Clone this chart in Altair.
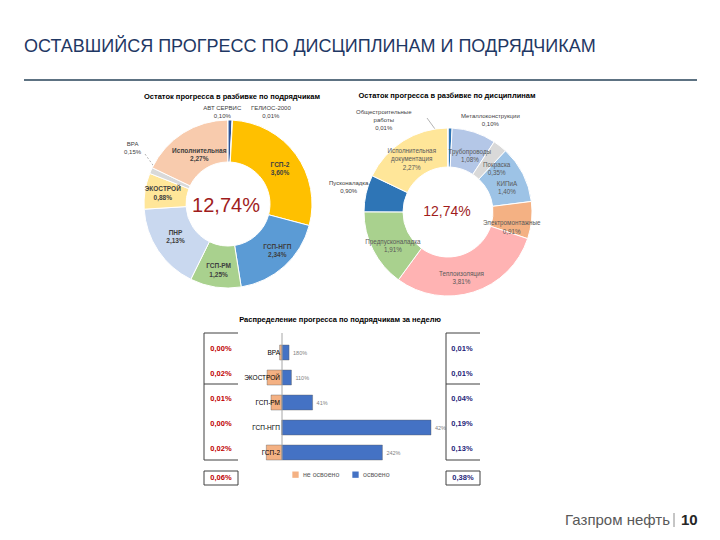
import altair as alt
import pandas as pd

FONT = "Liberation Sans"

# ---------------- data ----------------
total_remaining = 12.74

contractors = ["АВТ СЕРВИС", "ГЕЛИОС-2000", "ГСП-2", "ГСП-НГП", "ГСП-РМ", "ПНР",
               "ЭКОСТРОЙ", "ВРА", "Исполнительная"]
contractor_values = [0.10, 0.01, 3.60, 2.34, 1.25, 2.13, 0.88, 0.15, 2.27]
contractor_colors = ["#2f5597", "#4472c4", "#ffc000", "#5b9bd5", "#a9d18e", "#c9d8ef",
                     "#ffe699", "#d9d9d9", "#f8cbad"]

disciplines = ["Металлоконструкции", "Трубопроводы", "Покраска", "КИПиА", "Электромонтажные",
               "Теплоизоляция", "Предпусконаладка", "Пусконаладка",
               "Исполнительная документация", "Общестроительные работы"]
discipline_labels = ["Металлоконструкции", "Трубопроводы", "Покраска", "КИПиА", "Электромонтажные",
                     "Теплоизоляция", "Предпусконаладка", "Пусконаладка",
                     "Исполнительная\nдокументация", "Общестроительные\nработы"]
discipline_values = [0.10, 1.08, 0.35, 1.40, 0.91, 3.81, 1.91, 0.90, 2.27, 0.01]
discipline_colors = ["#2e75b6", "#b4c7e7", "#d9d9d9", "#9dc3e6", "#f4b183", "#ffb3b3",
                     "#a9d18e", "#2e75b6", "#ffe699", "#f8cbad"]

week_contractors = ["ВРА", "ЭКОСТРОЙ", "ГСП-РМ", "ГСП-НГП", "ГСП-2"]
week_done = [0.009, 0.012, 0.039, 0.19, 0.128]
week_not_done = [0.003, 0.019, 0.014, 0.0, 0.020]
week_ratio_labels = ["180%", "110%", "41%", "42%", "242%"]
status_names = ["не освоено", "освоено"]
status_colors = ["#f4b183", "#4472c4"]


def pct(v):
    return f"{v:.2f}".replace(".", ",") + "%"


# one shared colour scale for every coloured mark
color_scale = alt.Scale(domain=contractors + disciplines + status_names,
                        range=contractor_colors + discipline_colors + status_colors)
legend = alt.Legend(orient="none", legendX=284, legendY=463, direction="horizontal",
                    title=None, values=status_names, symbolType="square", symbolSize=40,
                    symbolStrokeWidth=0, labelFontSize=7, labelFont=FONT,
                    labelColor="#595959", columnPadding=12)


# ---------------- helpers ----------------
def text_at(t, x, y, size=8, color="#000000", weight="normal", align="center", font=FONT):
    return alt.Chart(pd.DataFrame({"t": [t]})).mark_text(
        align=align, baseline="middle", fontSize=size, font=font, fontWeight=weight, color=color
    ).encode(text="t:N", x=alt.value(x), y=alt.value(y))


def seg(x1, y1, x2, y2, color="#404040", w=1.0, dash=None):
    kw = {"color": color, "strokeWidth": w}
    if dash:
        kw["strokeDash"] = dash
    return alt.Chart(pd.DataFrame({"a": [0]})).mark_rule(**kw).encode(
        x=alt.value(x1), y=alt.value(y1), x2=alt.value(x2), y2=alt.value(y2))


def donut(names, labels, values, cx, cy, r_in, r_out, placement, lab_size):
    """placement: name -> (radius, dx, dy, colour, weight, size) of that slice's label."""
    df = pd.DataFrame({
        "name": names,
        "value": values,
        "idx": list(range(len(names))),
        "lab": [f"{l}\n{pct(v)}" for l, v in zip(labels, values)],
    })
    base = alt.Chart(df).encode(
        theta=alt.Theta("value:Q", stack=True),
        order=alt.Order("idx:Q"),
        x=alt.value(cx), y=alt.value(cy),
    )
    arcs = base.mark_arc(innerRadius=r_in, outerRadius=r_out, stroke="white", strokeWidth=1).encode(
        color=alt.Color("name:N", scale=color_scale, legend=legend))
    parts = [arcs]
    for n, (r, dx, dy, col, wt, sz) in placement.items():
        parts.append(
            base.transform_calculate(shown=f"datum.name == '{n}' ? datum.lab : ''").mark_text(
                radius=r, dx=dx, dy=dy, lineBreak="\n", fontSize=sz or lab_size, font=FONT,
                fontWeight=wt, color=col, align="center", baseline="middle"
            ).encode(text="shown:N")
        )
    return parts


IN_L = ("#404040", "bold", None)
OUT = ("#404040", "normal", 6)
IN_R = ("#595959", "normal", None)

# ---------------- left donut ----------------
left = donut(contractors, contractors, contractor_values, 220, 196, 42, 84, {
    "ГСП-2": (63, 1, -2) + IN_L,
    "ГСП-НГП": (63, 7, -4) + IN_L,
    "ГСП-РМ": (63, 0, 0) + IN_L,
    "ПНР": (63, 0, -6) + IN_L,
    "ЭКОСТРОЙ": (63, -3, -5) + IN_L,
    "Исполнительная": (63, 5, 0) + IN_L,
    "ВРА": (104, 0, -19) + OUT,
    "АВТ СЕРВИС": (93, -8, -3) + OUT,
    "ГЕЛИОС-2000": (93, 38, -3) + OUT,
}, lab_size=6.5)

# ---------------- right donut ----------------
right = donut(disciplines, discipline_labels, discipline_values, 440, 204, 45, 84, {
    "Трубопроводы": (64, 2, 1) + IN_R,
    "Покраска": (64, 9, 3) + IN_R,
    "КИПиА": (64, 2, 1) + IN_R,
    "Электромонтажные": (64, 0, 5) + IN_R,
    "Теплоизоляция": (64, -6, 1) + IN_R,
    "Предпусконаладка": (64, 2, 1) + IN_R,
    "Исполнительная документация": (64, -2, -7) + IN_R,
    "Пусконаладка": (105, 3, -6) + OUT,
    "Металлоконструкции": (96, 40, 0) + OUT,
    "Общестроительные работы": (93, -64, -7) + OUT,
}, lab_size=6.3)

# ---------------- weekly bars ----------------
rows = []
for c, d, nd in zip(week_contractors, week_done, week_not_done):
    rows.append({"cat": c, "status": status_names[0], "x0": -nd, "x1": 0.0})
    rows.append({"cat": c, "status": status_names[1], "x0": 0.0, "x1": d})
bars_df = pd.DataFrame(rows)

xs = alt.Scale(domain=[0, 0.19], range=[274, 423], nice=False, zero=False)
ys = alt.Scale(domain=week_contractors, range=[332, 457], paddingInner=0.4, paddingOuter=0.2)

bars = alt.Chart(bars_df).mark_bar(stroke="#5a5a5a", strokeWidth=0.4).encode(
    x=alt.X("x0:Q", scale=xs, axis=None),
    x2="x1:Q",
    y=alt.Y("cat:N", scale=ys, axis=None, sort=week_contractors),
    color=alt.Color("status:N", scale=color_scale, legend=legend),
)

week_df = pd.DataFrame({
    "cat": week_contractors,
    "done": week_done,
    "zero": [0.0] * len(week_contractors),
    "done_lab": [pct(v) for v in week_done],
    "nd_lab": [pct(v) for v in week_not_done],
    "ratio": week_ratio_labels,
})
wbase = alt.Chart(week_df).encode(y=alt.Y("cat:N", scale=ys, axis=None, sort=week_contractors))
cat_text = wbase.mark_text(align="right", fontSize=6.5, font=FONT, color="#000000", dx=-2).encode(
    x=alt.X("zero:Q", scale=xs, axis=None), text="cat:N")
ratio_text = wbase.mark_text(align="left", fontSize=5.5, font=FONT, color="#7f7f7f", dx=4).encode(
    x=alt.X("done:Q", scale=xs, axis=None), text="ratio:N")
nd_text = wbase.mark_text(align="center", fontSize=7.5, font=FONT, fontWeight="bold",
                          color="#c00000", dy=-4).encode(x=alt.value(213), text="nd_lab:N")
done_text = wbase.mark_text(align="center", fontSize=7.5, font=FONT, fontWeight="bold",
                            color="#1f1f7a", dy=-4).encode(x=alt.value(454), text="done_lab:N")
zero_rule = alt.Chart(pd.DataFrame({"zero": [0.0]})).mark_rule(color="#a6a6a6", strokeWidth=1).encode(
    x=alt.X("zero:Q", scale=xs, axis=None), y=alt.value(325), y2=alt.value(452))

# totals
nd_total = pct(sum(week_not_done))
done_total = pct(sum(week_done))

# ---------------- assemble ----------------
layers = [
    text_at("ОСТАВШИЙСЯ ПРОГРЕСС ПО ДИСЦИПЛИНАМ И ПОДРЯДЧИКАМ", 16, 39, size=18,
            color="#1f3864", align="left"),
    seg(16, 72, 689, 72, color="#5d7282", w=2),
    text_at("Остаток прогресса в разбивке по подрядчикам", 224, 89, size=7.5, weight="bold"),
    text_at("Остаток прогресса в разбивке по дисциплинам", 439, 88, size=7.5, weight="bold"),
    # leader lines
    seg(137, 146, 147, 160, color="#7f7f7f", w=0.6, dash=[2, 2]),
    seg(419, 110, 427, 121, color="#7f7f7f", w=0.6),
] + left + right + [
    text_at(pct(total_remaining), 218, 198, size=20, color="#a01c1c"),
    text_at(pct(total_remaining), 439, 204, size=14, color="#a01c1c"),
    text_at("Распределение прогресса по подрядчикам за неделю", 332, 312, size=7.5, weight="bold"),
    bars, zero_rule, cat_text, ratio_text, nd_text, done_text,
    # left frame
    seg(196, 325, 196, 452), seg(196, 325, 230, 325), seg(196, 376, 230, 376), seg(196, 452, 230, 452),
    # right frame
    seg(438, 325, 438, 452), seg(438, 325, 472, 325), seg(438, 376, 472, 376), seg(438, 452, 472, 452),
    # total boxes
    seg(196, 463, 230, 463), seg(196, 477, 230, 477), seg(196, 463, 196, 477), seg(230, 463, 230, 477),
    seg(438, 463, 472, 463), seg(438, 477, 472, 477), seg(438, 463, 438, 477), seg(472, 463, 472, 477),
    text_at(nd_total, 213, 470, size=7.5, weight="bold", color="#c00000"),
    text_at(done_total, 455, 470, size=7.5, weight="bold", color="#1f1f7a"),
    # footer
    text_at("Газпром нефть", 662, 512, size=15, color="#595959", align="right"),
    seg(666, 505, 666, 519, color="#8c8c8c", w=1),
    text_at("10", 673, 512, size=15, color="#262626", weight="bold", align="left"),
]

chart = alt.layer(*layers).properties(
    width=704, height=524, padding=0, autosize=alt.AutoSizeParams(type="none")
).configure(background="white").configure_view(stroke=None)

chart.save("out.html", embed_options={"renderer": "svg", "actions": False})
